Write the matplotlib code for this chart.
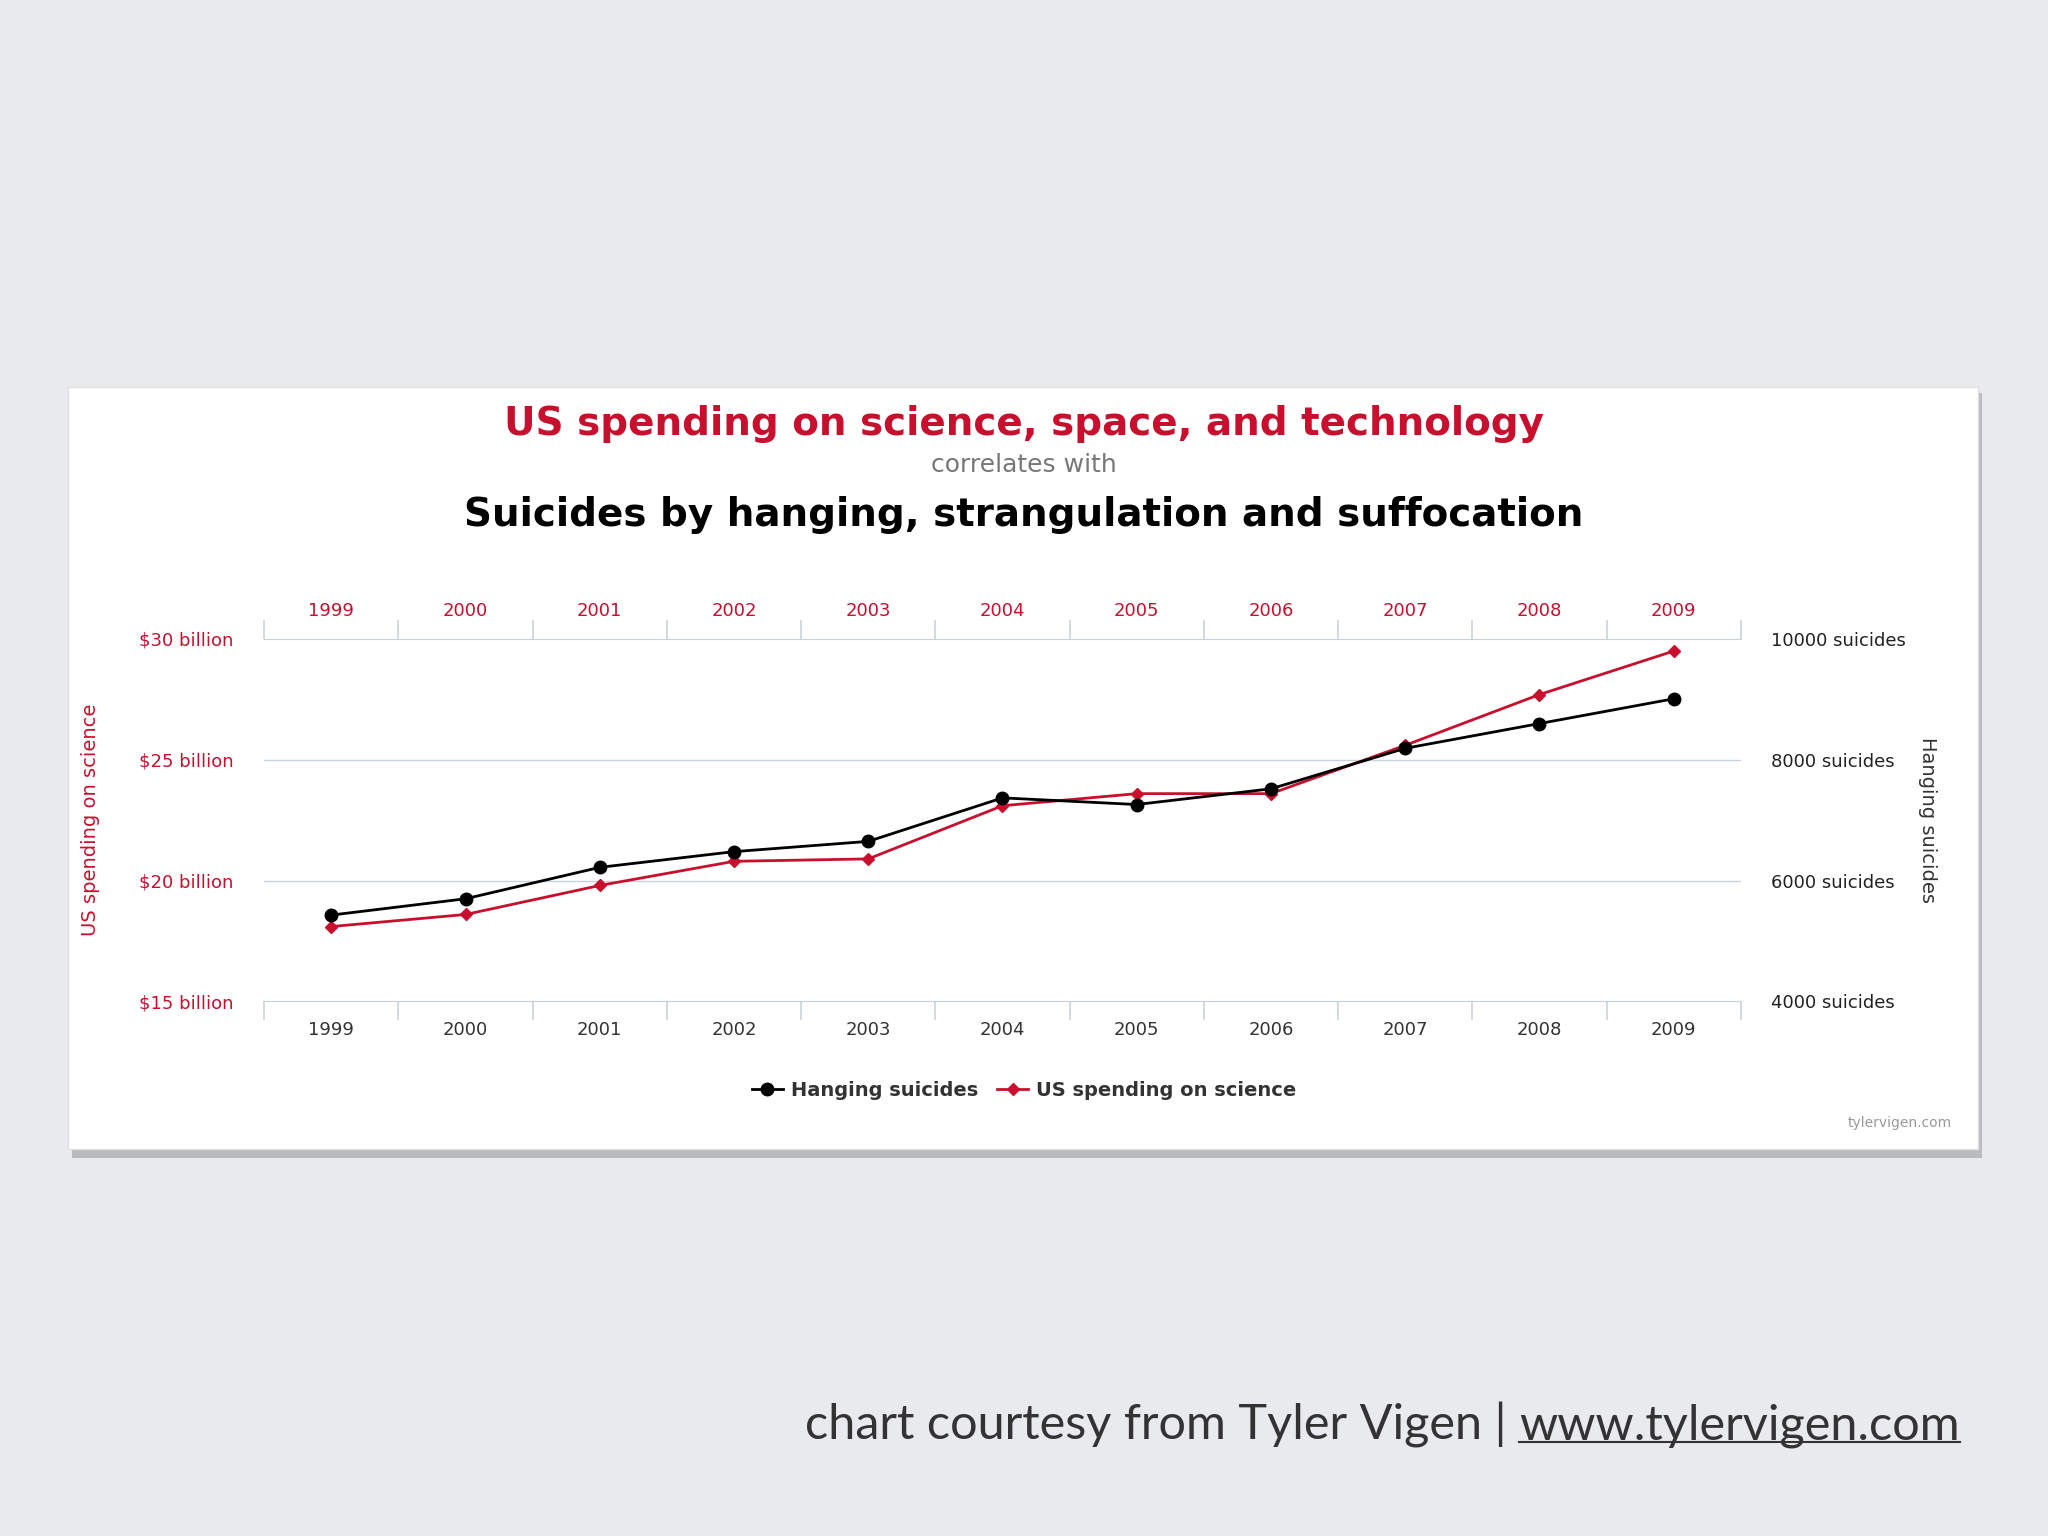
import matplotlib.pyplot as plt
from matplotlib.patches import Rectangle
from matplotlib.lines import Line2D

years = [1999, 2000, 2001, 2002, 2003, 2004, 2005, 2006, 2007, 2008, 2009]
hanging = [5430, 5700, 6220, 6480, 6650, 7370, 7260, 7520, 8190, 8600, 9010]
spending = [18.1, 18.6, 19.8, 20.8, 20.9, 23.1, 23.6, 23.6, 25.6, 27.7, 29.5]
left_ticks = [15, 20, 25, 30]
right_ticks = [4000, 6000, 8000, 10000]

RED = "#c8102e"
GRID = "#c8d2dc"

fig = plt.figure(figsize=(20.48, 15.36), dpi=100)
fig.patch.set_facecolor("#e9eaed")

# white card with shadow
fig.add_artist(Rectangle((0.035, 0.246), 0.933, 0.498, transform=fig.transFigure,
                         facecolor="#b9bbbf", edgecolor="none", zorder=0))
fig.add_artist(Rectangle((0.033, 0.252), 0.933, 0.496, transform=fig.transFigure,
                         facecolor="white", edgecolor="#e0e0e0", zorder=0))

ax = fig.add_axes([0.129, 0.348, 0.721, 0.236])
ax.set_facecolor("none")
ax2 = ax.twinx()
ax3 = ax.twiny()

ax.set_xlim(1998.5, 2009.5)
ax3.set_xlim(1998.5, 2009.5)
ax.set_ylim(15, 30)
ax2.set_ylim(4000, 10000)

ax.plot(years, spending, color=RED, marker="D", markersize=6, linewidth=2, zorder=3)
ax2.plot(years, hanging, color="black", marker="o", markersize=9, linewidth=2, zorder=4)

for y in [20, 25]:
    ax.axhline(y, color=GRID, linewidth=1, zorder=0)

for a in (ax, ax2, ax3):
    for s in a.spines.values():
        s.set_visible(False)

ax.spines["bottom"].set_visible(True)
ax.spines["bottom"].set_color(GRID)
ax3.spines["top"].set_visible(True)
ax3.spines["top"].set_color(GRID)

# boundary tick marks
bounds = [y - 0.5 for y in years] + [years[-1] + 0.5]
for a in (ax, ax3):
    a.set_xticks(years)
    a.set_xticks(bounds, minor=True)
    a.tick_params(axis="x", which="major", length=0, pad=14, labelsize=13)
    a.tick_params(axis="x", which="minor", length=14, color=GRID, width=1.2)
ax.set_xticklabels([str(y) for y in years], color="#333333")
ax3.set_xticklabels([str(y) for y in years], color=RED)

ax.set_yticks(left_ticks)
ax.set_yticklabels([f"${v} billion" for v in left_ticks], color=RED, fontsize=13)
ax.tick_params(axis="y", length=0, pad=22)
ax2.set_yticks(right_ticks)
ax2.set_yticklabels([f"{v} suicides" for v in right_ticks], color="#222222", fontsize=13)
ax2.tick_params(axis="y", length=0, pad=22)

ax.set_ylabel("US spending on science", color=RED, fontsize=14, labelpad=28)
ax2.set_ylabel("Hanging suicides", color="#333333", fontsize=14, rotation=270, labelpad=22)

# titles
fig.text(0.5, 0.724, "US spending on science, space, and technology", color=RED,
         fontsize=28, fontweight="bold", ha="center", va="center")
fig.text(0.5, 0.697, "correlates with", color="#777777", fontsize=18, ha="center", va="center")
fig.text(0.5, 0.665, "Suicides by hanging, strangulation and suffocation", color="black",
         fontsize=28, fontweight="bold", ha="center", va="center")

# legend
h1 = Line2D([], [], color="black", marker="o", markersize=9, linewidth=2)
h2 = Line2D([], [], color=RED, marker="D", markersize=6, linewidth=2)
leg = fig.legend([h1, h2], ["Hanging suicides", "US spending on science"],
                 loc="center", bbox_to_anchor=(0.5, 0.29), ncol=2, frameon=False,
                 handlelength=1.6, handletextpad=0.4, columnspacing=1.0,
                 prop={"size": 14, "weight": "bold"})
for t in leg.get_texts():
    t.set_color("#333333")

fig.text(0.953, 0.266, "tylervigen.com", color="#999999", fontsize=10, ha="right")

# footer
url = fig.text(0.957, 0.072, "www.tylervigen.com", color="#333333", fontsize=35,
               fontfamily="Lato", ha="right", va="center")
fig.canvas.draw()
bb = url.get_window_extent().transformed(fig.transFigure.inverted())
fig.text(bb.x0, 0.072, "chart courtesy from Tyler Vigen | ", color="#333333", fontsize=35,
         fontfamily="Lato", ha="right", va="center")
fig.add_artist(Line2D([bb.x0, bb.x1], [bb.y0 + 0.004, bb.y0 + 0.004],
                      transform=fig.transFigure, color="#333333", linewidth=1.5))

fig.savefig("out.png", dpi=100, facecolor=fig.get_facecolor())
